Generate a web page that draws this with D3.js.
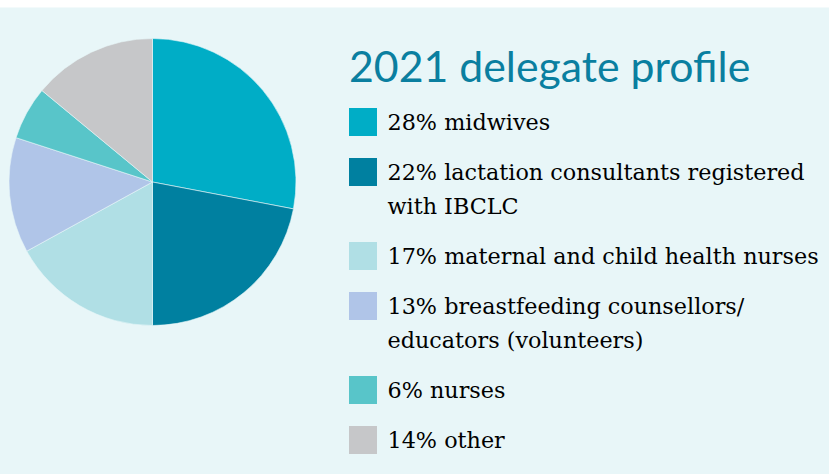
<!DOCTYPE html>
<html>
<head>
<meta charset="utf-8">
<script src="https://cdn.jsdelivr.net/npm/d3@7"></script>
<style>
  body { margin: 0; background: #fff; }
  svg { display: block; }
</style>
</head>
<body>
<svg id="chart" width="829" height="474"></svg>
<script>
// data
var categories = ["midwives", "lactation consultants", "maternal and child health nurses",
                  "breastfeeding counsellors", "nurses", "other"];
var values = [28, 22, 17, 13, 6, 14];
var legendLines = [
  ["28% midwives"],
  ["22% lactation consultants registered", "with IBCLC"],
  ["17% maternal and child health nurses"],
  ["13% breastfeeding counsellors/", "educators (volunteers)"],
  ["6% nurses"],
  ["14% other"]
];
var palette = ["#00adc6", "#0080a0", "#b0dfe5", "#b0c5e8", "#58c5c9", "#c6c7c9"];
var title = "2021 delegate profile";

var svg = d3.select("#chart");
var W = 829, H = 474;

svg.append("rect")
  .attr("x", 0).attr("y", 7.5)
  .attr("width", W).attr("height", H - 7.5)
  .attr("fill", "#e8f6f8");

var color = d3.scaleOrdinal().domain(categories).range(palette);

var pie = d3.pie().sort(null).value(function(d){ return d.value; });
var arc = d3.arc().innerRadius(0).outerRadius(143.5);

var data = categories.map(function(c, i){ return {cat: c, value: values[i]}; });

var g = svg.append("g").attr("transform", "translate(152.5,182)");
g.selectAll("path")
  .data(pie(data))
  .enter().append("path")
  .attr("d", arc)
  .attr("fill", function(d){ return color(d.data.cat); })
  .attr("stroke", "#e8f6f8")
  .attr("stroke-width", 0.6);

svg.append("text")
  .attr("x", 349)
  .attr("y", 82)
  .attr("font-family", "Lato, sans-serif")
  .attr("font-size", 42.8)
  .attr("fill", "#0a7fa0")
  .text(title);

// legend
var rowTop = 108, lineH = 34, gap = 50;
var legend = svg.append("g");
legendLines.forEach(function(lines, i){
  var row = legend.append("g").attr("transform", "translate(349," + rowTop + ")");
  row.append("rect")
    .attr("width", 28).attr("height", 28)
    .attr("fill", color(categories[i]));
  var t = row.append("text")
    .attr("x", 38.5)
    .attr("y", 22)
    .attr("font-family", "'DejaVu Serif', serif")
    .attr("font-size", 22.3)
    .attr("fill", "#000");
  lines.forEach(function(l, j){
    t.append("tspan").attr("x", 38.5).attr("dy", j == 0 ? 0 : lineH).text(l);
  });
  rowTop += gap + (lines.length - 1) * lineH;
});
</script>
</body>
</html>
